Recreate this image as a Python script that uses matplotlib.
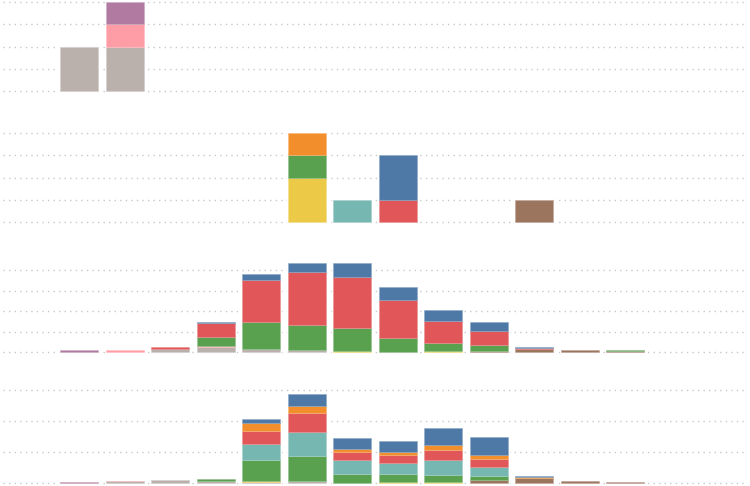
import matplotlib
matplotlib.use("Agg")
import matplotlib.pyplot as plt
import matplotlib.colors as mcolors
import numpy as np

categories = [str(i) for i in range(1, 14)]

colors = {
    "gray": "#bab0ac", "brown": "#9c755f", "pink": "#ff9da7", "purple": "#b07aa1",
    "yellow": "#edc948", "green": "#59a14f", "teal": "#76b7b2", "red": "#e15759",
    "orange": "#f28e2b", "blue": "#4e79a7",
}
stack_order = ["gray", "brown", "pink", "purple", "yellow", "green", "teal", "red", "orange", "blue"]

# Row 1
row1 = {
    "gray":   [2, 2, 0, 0, 0, 0, 0, 0, 0, 0, 0, 0, 0],
    "pink":   [0, 1, 0, 0, 0, 0, 0, 0, 0, 0, 0, 0, 0],
    "purple": [0, 1, 0, 0, 0, 0, 0, 0, 0, 0, 0, 0, 0],
}
# Row 2
row2 = {
    "brown":  [0, 0, 0, 0, 0, 0, 0, 0, 0, 0, 1, 0, 0],
    "yellow": [0, 0, 0, 0, 0, 2, 0, 0, 0, 0, 0, 0, 0],
    "green":  [0, 0, 0, 0, 0, 1, 0, 0, 0, 0, 0, 0, 0],
    "teal":   [0, 0, 0, 0, 0, 0, 1, 0, 0, 0, 0, 0, 0],
    "red":    [0, 0, 0, 0, 0, 0, 0, 1, 0, 0, 0, 0, 0],
    "orange": [0, 0, 0, 0, 0, 1, 0, 0, 0, 0, 0, 0, 0],
    "blue":   [0, 0, 0, 0, 0, 0, 0, 2, 0, 0, 0, 0, 0],
}
# Row 3
row3 = {
    "gray":   [0, 0, 0.8, 1.3, 0.7, 0.4, 0, 0, 0, 0, 0, 0, 0],
    "brown":  [0, 0, 0, 0, 0, 0, 0, 0, 0, 0.3, 0.7, 0.4, 0.15],
    "pink":   [0, 0.5, 0, 0.15, 0, 0, 0, 0, 0, 0, 0, 0, 0],
    "purple": [0.4, 0, 0, 0, 0, 0, 0, 0, 0, 0, 0, 0, 0],
    "yellow": [0, 0, 0, 0, 0, 0, 0.25, 0, 0.25, 0, 0, 0, 0],
    "green":  [0, 0, 0, 2.1, 6.6, 6.3, 5.6, 3.5, 2.0, 1.5, 0, 0, 0.25],
    "red":    [0, 0, 0.35, 3.6, 10.2, 12.7, 12.5, 9.3, 5.4, 3.4, 0.35, 0, 0],
    "blue":   [0, 0, 0, 0.15, 1.5, 2.4, 3.4, 3.0, 2.6, 2.2, 0.25, 0, 0],
}
# Row 4
row4 = {
    "gray":   [0, 0.5, 0.8, 0.55, 0.25, 0.4, 0, 0, 0, 0, 0, 0, 0],
    "brown":  [0, 0, 0, 0, 0, 0, 0, 0, 0, 1.0, 1.5, 0.6, 0.35],
    "pink":   [0, 0.15, 0, 0, 0, 0, 0, 0, 0, 0, 0, 0, 0],
    "purple": [0.35, 0, 0, 0, 0, 0, 0, 0, 0, 0, 0, 0, 0],
    "yellow": [0, 0, 0, 0, 0.4, 0, 0, 0.35, 0.35, 0, 0, 0, 0],
    "green":  [0, 0, 0, 0.55, 6.6, 8.1, 2.9, 2.4, 2.3, 1.2, 0, 0, 0],
    "teal":   [0, 0, 0, 0, 5.4, 7.9, 4.5, 3.5, 4.7, 3.0, 0, 0, 0],
    "red":    [0, 0, 0, 0, 4.2, 6.1, 2.4, 2.6, 3.2, 2.4, 0, 0, 0],
    "orange": [0, 0, 0, 0, 2.4, 2.3, 1.0, 1.1, 1.5, 1.4, 0.35, 0, 0],
    "blue":   [0, 0, 0, 0, 1.4, 3.8, 3.6, 3.7, 5.8, 5.9, 0.35, 0, 0],
}

W, H = 750, 486
fig = plt.figure(figsize=(W / 100, H / 100), dpi=100)

x_left_px, x_right_px = 3, 745
c0_px, slot_px, bar_px = 79, 45.5, 38

# (data, top_px, bottom_px, baseline_px, grid_px, step, n_grid)
rows = [
    (row1, 0, 94, 91, 22.2, 1, 4),
    (row2, 110, 225, 222, 22.25, 1, 4),
    (row3, 240, 355, 352, 20.5, 5, 4),
    (row4, 370, 486, 482.7, 30.9, 10, 3),
]


def lighter(c, f=0.35):
    r, g, b = mcolors.to_rgb(c)
    return (r + (1 - r) * f, g + (1 - g) * f, b + (1 - b) * f)


x = np.arange(len(categories))
w = bar_px / slot_px
for data, top, bottom, base, gpx, step, ng in rows:
    ax = fig.add_axes([x_left_px / W, 1 - bottom / H, (x_right_px - x_left_px) / W, (bottom - top) / H])
    ax.set_facecolor("none")
    ymin = -(bottom - base) / gpx * step
    ymax = (base - top) / gpx * step
    ax.set_ylim(ymin, ymax)
    ax.set_xlim((x_left_px - c0_px) / slot_px, (x_right_px - c0_px) / slot_px)
    for k in range(ng + 1):
        ax.axhline(k * step, color="#c8c8c8", lw=1.0, ls=(0, (1, 3)), zorder=0)
    totals = np.zeros(len(categories))
    for name in stack_order:
        if name in data:
            totals += np.array(data[name], dtype=float)
    m = totals > 0
    ax.bar(x[m], totals[m], width=w, color="none", edgecolor="white", linewidth=2.0, zorder=1)
    bottoms = np.zeros(len(categories))
    for name in stack_order:
        if name not in data:
            continue
        vals = np.array(data[name], dtype=float)
        nz = vals > 0
        if nz.any():
            ax.bar(x[nz], vals[nz], bottom=bottoms[nz], width=w, color=colors[name],
                   edgecolor=lighter(colors[name]), linewidth=0.4, zorder=2)
        bottoms += vals
    ax.set_xticks([])
    ax.set_yticks([])
    for s in ax.spines.values():
        s.set_visible(False)

fig.savefig("out.png", dpi=100)
